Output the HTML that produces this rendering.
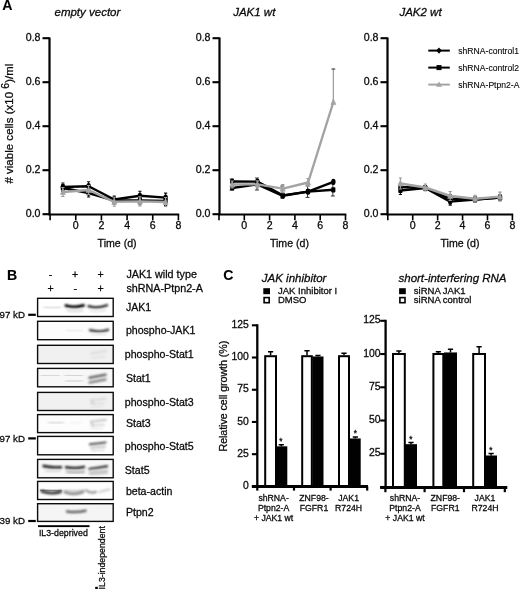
<!DOCTYPE html>
<html><head><meta charset="utf-8"><title>Figure</title>
<style>
html,body{margin:0;padding:0;background:#fff;}
body{width:520px;height:589px;overflow:hidden;font-family:"Liberation Sans",sans-serif;}
svg{display:block;will-change:transform;opacity:0.999;font-family:"Liberation Sans",sans-serif;}
text{fill:#0a0a0a;stroke:#0a0a0a;stroke-width:0.28px;}
.t{font-size:10.6px;}
.it{font-size:11.5px;font-style:italic;}
.pl{font-size:15.4px;font-weight:bold;fill:#000;stroke-width:0.1px;}
.lg{font-size:8.6px;stroke-width:0.12px;}
.bl{font-size:10.6px;}
.xs{font-size:8.7px;}
.lg2{font-size:9.5px;}
</style></head><body>
<svg width="520" height="589" viewBox="0 0 520 589">
<rect width="520" height="589" fill="#fff"/>

<text class="pl" transform="translate(2.3,10.3) scale(0.92,1)">A</text>
<text class="it" x="54.5" y="16.3">empty vector</text>
<path d="M49.5 37.5 V214.5 H179.20000000000002" fill="none" stroke="#000" stroke-width="2.2" stroke-linejoin="miter"/>
<line x1="42.5" y1="214.2" x2="49.5" y2="214.2" stroke="#000" stroke-width="2.1"/>
<text class="t" x="40.5" y="216.6" text-anchor="end">0.0</text>
<line x1="42.5" y1="170.2" x2="49.5" y2="170.2" stroke="#000" stroke-width="2.1"/>
<text class="t" x="40.5" y="172.6" text-anchor="end">0.2</text>
<line x1="42.5" y1="126.2" x2="49.5" y2="126.2" stroke="#000" stroke-width="2.1"/>
<text class="t" x="40.5" y="128.6" text-anchor="end">0.4</text>
<line x1="42.5" y1="82.19999999999997" x2="49.5" y2="82.19999999999997" stroke="#000" stroke-width="2.1"/>
<text class="t" x="40.5" y="84.59999999999997" text-anchor="end">0.6</text>
<line x1="42.5" y1="38.2" x2="49.5" y2="38.2" stroke="#000" stroke-width="2.1"/>
<text class="t" x="40.5" y="40.6" text-anchor="end">0.8</text>
<line x1="50.1" y1="214.5" x2="50.1" y2="220.3" stroke="#000" stroke-width="1.6"/>
<line x1="75.76" y1="214.5" x2="75.76" y2="220.3" stroke="#000" stroke-width="1.6"/>
<text class="t" x="75.76" y="228.9" text-anchor="middle">0</text>
<line x1="101.42" y1="214.5" x2="101.42" y2="220.3" stroke="#000" stroke-width="1.6"/>
<text class="t" x="101.42" y="228.9" text-anchor="middle">2</text>
<line x1="127.08000000000001" y1="214.5" x2="127.08000000000001" y2="220.3" stroke="#000" stroke-width="1.6"/>
<text class="t" x="127.08000000000001" y="228.9" text-anchor="middle">4</text>
<line x1="152.74" y1="214.5" x2="152.74" y2="220.3" stroke="#000" stroke-width="1.6"/>
<text class="t" x="152.74" y="228.9" text-anchor="middle">6</text>
<line x1="178.4" y1="214.5" x2="178.4" y2="220.3" stroke="#000" stroke-width="1.6"/>
<text class="t" x="178.4" y="228.9" text-anchor="middle">8</text>
<text class="t" x="117.1" y="246.8" text-anchor="middle">Time (d)</text>
<path d="M62.9 184.5 V191.5 M61.3 184.5 H64.5 M61.3 191.5 H64.5" stroke="#111" stroke-width="1.1" fill="none"/>
<path d="M88.6 189.0 V197.0 M87.0 189.0 H90.2 M87.0 197.0 H90.2" stroke="#111" stroke-width="1.1" fill="none"/>
<path d="M114.2 197.0 V204.0 M112.7 197.0 H115.8 M112.7 204.0 H115.8" stroke="#111" stroke-width="1.1" fill="none"/>
<path d="M139.9 197.0 V204.0 M138.3 197.0 H141.5 M138.3 204.0 H141.5" stroke="#111" stroke-width="1.1" fill="none"/>
<path d="M165.6 196.5 V205.5 M164.0 196.5 H167.2 M164.0 205.5 H167.2" stroke="#111" stroke-width="1.1" fill="none"/>
<path d="M62.9 183.0 V191.0 M61.3 183.0 H64.5 M61.3 191.0 H64.5" stroke="#111" stroke-width="1.1" fill="none"/>
<path d="M88.6 181.8 V190.8 M87.0 181.8 H90.2 M87.0 190.8 H90.2" stroke="#111" stroke-width="1.1" fill="none"/>
<path d="M114.2 196.0 V203.0 M112.7 196.0 H115.8 M112.7 203.0 H115.8" stroke="#111" stroke-width="1.1" fill="none"/>
<path d="M139.9 191.3 V200.3 M138.3 191.3 H141.5 M138.3 200.3 H141.5" stroke="#111" stroke-width="1.1" fill="none"/>
<path d="M165.6 193.1 V202.1 M164.0 193.1 H167.2 M164.0 202.1 H167.2" stroke="#111" stroke-width="1.1" fill="none"/>
<polyline points="62.9,188.0 88.6,193.0 114.2,200.5 139.9,200.5 165.6,201.0" fill="none" stroke="#000" stroke-width="2.4" stroke-linejoin="round"/>
<polyline points="62.9,187.0 88.6,186.2 114.2,199.5 139.9,195.8 165.6,197.6" fill="none" stroke="#000" stroke-width="2.4" stroke-linejoin="round"/>
<rect x="60.8" y="185.4" width="4.2" height="5.2" rx="0.8" fill="#000"/>
<rect x="86.5" y="190.4" width="4.2" height="5.2" rx="0.8" fill="#000"/>
<rect x="112.2" y="197.9" width="4.2" height="5.2" rx="0.8" fill="#000"/>
<rect x="137.8" y="197.9" width="4.2" height="5.2" rx="0.8" fill="#000"/>
<rect x="163.5" y="198.4" width="4.2" height="5.2" rx="0.8" fill="#000"/>
<ellipse cx="62.9" cy="187.0" rx="2.2" ry="3.1" fill="#000"/>
<ellipse cx="88.6" cy="186.2" rx="2.2" ry="3.1" fill="#000"/>
<ellipse cx="114.2" cy="199.5" rx="2.2" ry="3.1" fill="#000"/>
<ellipse cx="139.9" cy="195.8" rx="2.2" ry="3.1" fill="#000"/>
<ellipse cx="165.6" cy="197.6" rx="2.2" ry="3.1" fill="#000"/>
<path d="M62.9 187.5 V196.5 M61.3 187.5 H64.5 M61.3 196.5 H64.5" stroke="#9a9a9a" stroke-width="1.1" fill="none"/>
<path d="M88.6 185.5 V194.5 M87.0 185.5 H90.2 M87.0 194.5 H90.2" stroke="#9a9a9a" stroke-width="1.1" fill="none"/>
<path d="M114.2 197.3 V206.3 M112.7 197.3 H115.8 M112.7 206.3 H115.8" stroke="#9a9a9a" stroke-width="1.1" fill="none"/>
<path d="M139.9 196.9 V205.9 M138.3 196.9 H141.5 M138.3 205.9 H141.5" stroke="#9a9a9a" stroke-width="1.1" fill="none"/>
<path d="M165.6 197.5 V206.5 M164.0 197.5 H167.2 M164.0 206.5 H167.2" stroke="#9a9a9a" stroke-width="1.1" fill="none"/>
<polyline points="62.9,192.0 88.6,190.0 114.2,201.8 139.9,201.4 165.6,202.0" fill="none" stroke="#a3a3a3" stroke-width="2.4" stroke-linejoin="round"/>
<path d="M62.9 188.6 L65.4 194.6 L60.4 194.6Z" fill="#a3a3a3" stroke="#a3a3a3" stroke-width="0.6" stroke-linejoin="round"/>
<path d="M88.6 186.6 L91.1 192.6 L86.1 192.6Z" fill="#a3a3a3" stroke="#a3a3a3" stroke-width="0.6" stroke-linejoin="round"/>
<path d="M114.2 198.4 L116.8 204.4 L111.8 204.4Z" fill="#a3a3a3" stroke="#a3a3a3" stroke-width="0.6" stroke-linejoin="round"/>
<path d="M139.9 198.0 L142.4 204.0 L137.4 204.0Z" fill="#a3a3a3" stroke="#a3a3a3" stroke-width="0.6" stroke-linejoin="round"/>
<path d="M165.6 198.6 L168.1 204.6 L163.1 204.6Z" fill="#a3a3a3" stroke="#a3a3a3" stroke-width="0.6" stroke-linejoin="round"/>
<text class="it" x="233.2" y="16.3">JAK1 wt</text>
<path d="M219.5 37.5 V214.5 H346.3" fill="none" stroke="#000" stroke-width="2.2" stroke-linejoin="miter"/>
<line x1="212.5" y1="214.2" x2="219.5" y2="214.2" stroke="#000" stroke-width="2.1"/>
<text class="t" x="210.5" y="216.6" text-anchor="end">0.0</text>
<line x1="212.5" y1="170.2" x2="219.5" y2="170.2" stroke="#000" stroke-width="2.1"/>
<text class="t" x="210.5" y="172.6" text-anchor="end">0.2</text>
<line x1="212.5" y1="126.2" x2="219.5" y2="126.2" stroke="#000" stroke-width="2.1"/>
<text class="t" x="210.5" y="128.6" text-anchor="end">0.4</text>
<line x1="212.5" y1="82.19999999999997" x2="219.5" y2="82.19999999999997" stroke="#000" stroke-width="2.1"/>
<text class="t" x="210.5" y="84.59999999999997" text-anchor="end">0.6</text>
<line x1="212.5" y1="38.2" x2="219.5" y2="38.2" stroke="#000" stroke-width="2.1"/>
<text class="t" x="210.5" y="40.6" text-anchor="end">0.8</text>
<line x1="219.0" y1="214.5" x2="219.0" y2="220.3" stroke="#000" stroke-width="1.6"/>
<line x1="244.3" y1="214.5" x2="244.3" y2="220.3" stroke="#000" stroke-width="1.6"/>
<text class="t" x="244.3" y="228.9" text-anchor="middle">0</text>
<line x1="269.6" y1="214.5" x2="269.6" y2="220.3" stroke="#000" stroke-width="1.6"/>
<text class="t" x="269.6" y="228.9" text-anchor="middle">2</text>
<line x1="294.9" y1="214.5" x2="294.9" y2="220.3" stroke="#000" stroke-width="1.6"/>
<text class="t" x="294.9" y="228.9" text-anchor="middle">4</text>
<line x1="320.2" y1="214.5" x2="320.2" y2="220.3" stroke="#000" stroke-width="1.6"/>
<text class="t" x="320.2" y="228.9" text-anchor="middle">6</text>
<line x1="345.5" y1="214.5" x2="345.5" y2="220.3" stroke="#000" stroke-width="1.6"/>
<text class="t" x="345.5" y="228.9" text-anchor="middle">8</text>
<text class="t" x="289.4" y="246.8" text-anchor="middle">Time (d)</text>
<path d="M256.95 178 V190 M254.95 178 H258.95 M254.95 190 H258.95" stroke="#222" stroke-width="0.9" fill="none"/>
<path d="M307.55 186 V197.4 M305.55 186 H309.55 M305.55 197.4 H309.55" stroke="#222" stroke-width="0.9" fill="none"/>
<path d="M332.85 184 V196 M330.85 184 H334.85 M330.85 196 H334.85" stroke="#222" stroke-width="0.9" fill="none"/>
<path d="M282.25 186 V198 M280.25 186 H284.25 M280.25 198 H284.25" stroke="#222" stroke-width="0.9" fill="none"/>
<path d="M231.65 179 V190 M229.65 179 H233.65 M229.65 190 H233.65" stroke="#222" stroke-width="0.9" fill="none"/>
<path d="M333.35 69 V102" stroke="#999" stroke-width="1.2" fill="none"/>
<path d="M331.55 69 H335.15000000000003" stroke="#333" stroke-width="1.1" fill="none"/>
<polyline points="232.2,188.0 257.4,184.4 282.8,195.8 308.1,191.6 333.4,189.8" fill="none" stroke="#000" stroke-width="2.4" stroke-linejoin="round"/>
<polyline points="232.2,181.5 257.4,181.6 282.8,195.4 308.1,191.6 333.4,181.8" fill="none" stroke="#000" stroke-width="2.4" stroke-linejoin="round"/>
<rect x="230.1" y="185.4" width="4.2" height="5.2" rx="0.8" fill="#000"/>
<rect x="255.3" y="181.8" width="4.2" height="5.2" rx="0.8" fill="#000"/>
<rect x="280.6" y="193.2" width="4.2" height="5.2" rx="0.8" fill="#000"/>
<rect x="305.9" y="189.0" width="4.2" height="5.2" rx="0.8" fill="#000"/>
<rect x="331.2" y="187.2" width="4.2" height="5.2" rx="0.8" fill="#000"/>
<ellipse cx="232.2" cy="181.5" rx="2.2" ry="3.1" fill="#000"/>
<ellipse cx="257.4" cy="181.6" rx="2.2" ry="3.1" fill="#000"/>
<ellipse cx="282.8" cy="195.4" rx="2.2" ry="3.1" fill="#000"/>
<ellipse cx="308.1" cy="191.6" rx="2.2" ry="3.1" fill="#000"/>
<ellipse cx="333.4" cy="181.8" rx="2.2" ry="3.1" fill="#000"/>
<path d="M232.2 181.0 V188.0 M230.6 181.0 H233.8 M230.6 188.0 H233.8" stroke="#9a9a9a" stroke-width="1.1" fill="none"/>
<path d="M257.4 180.9 V187.9 M255.8 180.9 H259.1 M255.8 187.9 H259.1" stroke="#9a9a9a" stroke-width="1.1" fill="none"/>
<path d="M282.8 184.6 V192.6 M281.1 184.6 H284.4 M281.1 192.6 H284.4" stroke="#9a9a9a" stroke-width="1.1" fill="none"/>
<path d="M308.1 178.5 V186.5 M306.4 178.5 H309.7 M306.4 186.5 H309.7" stroke="#9a9a9a" stroke-width="1.1" fill="none"/>
<polyline points="232.2,184.5 257.4,184.4 282.8,188.6 308.1,182.5 333.4,102.0" fill="none" stroke="#a3a3a3" stroke-width="2.4" stroke-linejoin="round"/>
<path d="M232.2 181.1 L234.7 187.1 L229.7 187.1Z" fill="#a3a3a3" stroke="#a3a3a3" stroke-width="0.6" stroke-linejoin="round"/>
<path d="M257.4 181.0 L259.9 187.0 L254.9 187.0Z" fill="#a3a3a3" stroke="#a3a3a3" stroke-width="0.6" stroke-linejoin="round"/>
<path d="M282.8 185.2 L285.2 191.2 L280.2 191.2Z" fill="#a3a3a3" stroke="#a3a3a3" stroke-width="0.6" stroke-linejoin="round"/>
<path d="M308.1 179.1 L310.6 185.1 L305.6 185.1Z" fill="#a3a3a3" stroke="#a3a3a3" stroke-width="0.6" stroke-linejoin="round"/>
<path d="M333.4 98.6 L335.9 104.6 L330.9 104.6Z" fill="#a3a3a3" stroke="#a3a3a3" stroke-width="0.6" stroke-linejoin="round"/>
<text class="it" x="399.4" y="16.3">JAK2 wt</text>
<path d="M387.5 37.5 V214.5 H513.1999999999999" fill="none" stroke="#000" stroke-width="2.2" stroke-linejoin="miter"/>
<line x1="380.5" y1="214.2" x2="387.5" y2="214.2" stroke="#000" stroke-width="2.1"/>
<text class="t" x="378.5" y="216.6" text-anchor="end">0.0</text>
<line x1="380.5" y1="170.2" x2="387.5" y2="170.2" stroke="#000" stroke-width="2.1"/>
<text class="t" x="378.5" y="172.6" text-anchor="end">0.2</text>
<line x1="380.5" y1="126.2" x2="387.5" y2="126.2" stroke="#000" stroke-width="2.1"/>
<text class="t" x="378.5" y="128.6" text-anchor="end">0.4</text>
<line x1="380.5" y1="82.19999999999997" x2="387.5" y2="82.19999999999997" stroke="#000" stroke-width="2.1"/>
<text class="t" x="378.5" y="84.59999999999997" text-anchor="end">0.6</text>
<line x1="380.5" y1="38.2" x2="387.5" y2="38.2" stroke="#000" stroke-width="2.1"/>
<text class="t" x="378.5" y="40.6" text-anchor="end">0.8</text>
<line x1="387.8" y1="214.5" x2="387.8" y2="220.3" stroke="#000" stroke-width="1.6"/>
<line x1="412.72" y1="214.5" x2="412.72" y2="220.3" stroke="#000" stroke-width="1.6"/>
<text class="t" x="412.72" y="228.9" text-anchor="middle">0</text>
<line x1="437.64" y1="214.5" x2="437.64" y2="220.3" stroke="#000" stroke-width="1.6"/>
<text class="t" x="437.64" y="228.9" text-anchor="middle">2</text>
<line x1="462.56" y1="214.5" x2="462.56" y2="220.3" stroke="#000" stroke-width="1.6"/>
<text class="t" x="462.56" y="228.9" text-anchor="middle">4</text>
<line x1="487.48" y1="214.5" x2="487.48" y2="220.3" stroke="#000" stroke-width="1.6"/>
<text class="t" x="487.48" y="228.9" text-anchor="middle">6</text>
<line x1="512.4" y1="214.5" x2="512.4" y2="220.3" stroke="#000" stroke-width="1.6"/>
<text class="t" x="512.4" y="228.9" text-anchor="middle">8</text>
<text class="t" x="460" y="246.8" text-anchor="middle">Time (d)</text>
<path d="M400.4 186.5 V194.5 M398.8 186.5 H402.0 M398.8 194.5 H402.0" stroke="#111" stroke-width="1.1" fill="none"/>
<path d="M425.3 185.5 V190.5 M423.7 185.5 H426.9 M423.7 190.5 H426.9" stroke="#111" stroke-width="1.1" fill="none"/>
<path d="M450.2 194.8 V202.8 M448.6 194.8 H451.8 M448.6 202.8 H451.8" stroke="#111" stroke-width="1.1" fill="none"/>
<path d="M475.1 197.0 V202.0 M473.5 197.0 H476.7 M473.5 202.0 H476.7" stroke="#111" stroke-width="1.1" fill="none"/>
<path d="M500.0 195.0 V200.0 M498.4 195.0 H501.6 M498.4 200.0 H501.6" stroke="#111" stroke-width="1.1" fill="none"/>
<path d="M400.4 183.5 V190.5 M398.8 183.5 H402.0 M398.8 190.5 H402.0" stroke="#111" stroke-width="1.1" fill="none"/>
<path d="M425.3 185.5 V190.5 M423.7 185.5 H426.9 M423.7 190.5 H426.9" stroke="#111" stroke-width="1.1" fill="none"/>
<path d="M450.2 198.1 V205.1 M448.6 198.1 H451.8 M448.6 205.1 H451.8" stroke="#111" stroke-width="1.1" fill="none"/>
<path d="M475.1 197.0 V202.0 M473.5 197.0 H476.7 M473.5 202.0 H476.7" stroke="#111" stroke-width="1.1" fill="none"/>
<path d="M500.0 195.0 V200.0 M498.4 195.0 H501.6 M498.4 200.0 H501.6" stroke="#111" stroke-width="1.1" fill="none"/>
<polyline points="400.4,190.5 425.3,188.0 450.2,198.8 475.1,199.5 500.0,197.5" fill="none" stroke="#000" stroke-width="2.4" stroke-linejoin="round"/>
<polyline points="400.4,187.0 425.3,188.0 450.2,201.6 475.1,199.5 500.0,197.5" fill="none" stroke="#000" stroke-width="2.4" stroke-linejoin="round"/>
<rect x="398.3" y="187.9" width="4.2" height="5.2" rx="0.8" fill="#000"/>
<rect x="423.2" y="185.4" width="4.2" height="5.2" rx="0.8" fill="#000"/>
<rect x="448.1" y="196.2" width="4.2" height="5.2" rx="0.8" fill="#000"/>
<rect x="473.0" y="196.9" width="4.2" height="5.2" rx="0.8" fill="#000"/>
<rect x="497.9" y="194.9" width="4.2" height="5.2" rx="0.8" fill="#000"/>
<ellipse cx="400.4" cy="187.0" rx="2.2" ry="3.1" fill="#000"/>
<ellipse cx="425.3" cy="188.0" rx="2.2" ry="3.1" fill="#000"/>
<ellipse cx="450.2" cy="201.6" rx="2.2" ry="3.1" fill="#000"/>
<ellipse cx="475.1" cy="199.5" rx="2.2" ry="3.1" fill="#000"/>
<ellipse cx="500.0" cy="197.5" rx="2.2" ry="3.1" fill="#000"/>
<path d="M400.4 178.0 V189.0 M398.8 178.0 H402.0 M398.8 189.0 H402.0" stroke="#9a9a9a" stroke-width="1.1" fill="none"/>
<path d="M425.3 184.0 V191.0 M423.7 184.0 H426.9 M423.7 191.0 H426.9" stroke="#9a9a9a" stroke-width="1.1" fill="none"/>
<path d="M450.2 191.5 V200.5 M448.6 191.5 H451.8 M448.6 200.5 H451.8" stroke="#9a9a9a" stroke-width="1.1" fill="none"/>
<path d="M475.1 195.2 V202.2 M473.5 195.2 H476.7 M473.5 202.2 H476.7" stroke="#9a9a9a" stroke-width="1.1" fill="none"/>
<path d="M500.0 192.1 V201.1 M498.4 192.1 H501.6 M498.4 201.1 H501.6" stroke="#9a9a9a" stroke-width="1.1" fill="none"/>
<polyline points="400.4,183.5 425.3,187.5 450.2,196.0 475.1,198.8 500.0,196.6" fill="none" stroke="#a3a3a3" stroke-width="2.4" stroke-linejoin="round"/>
<path d="M400.4 180.1 L402.9 186.1 L397.9 186.1Z" fill="#a3a3a3" stroke="#a3a3a3" stroke-width="0.6" stroke-linejoin="round"/>
<path d="M425.3 184.1 L427.8 190.1 L422.8 190.1Z" fill="#a3a3a3" stroke="#a3a3a3" stroke-width="0.6" stroke-linejoin="round"/>
<path d="M450.2 192.6 L452.7 198.6 L447.7 198.6Z" fill="#a3a3a3" stroke="#a3a3a3" stroke-width="0.6" stroke-linejoin="round"/>
<path d="M475.1 195.3 L477.6 201.3 L472.6 201.3Z" fill="#a3a3a3" stroke="#a3a3a3" stroke-width="0.6" stroke-linejoin="round"/>
<path d="M500.0 193.2 L502.5 199.2 L497.5 199.2Z" fill="#a3a3a3" stroke="#a3a3a3" stroke-width="0.6" stroke-linejoin="round"/>
<text class="t" transform="translate(13.2,183.6) rotate(-90)" style="font-size:11.4px" textLength="120" lengthAdjust="spacing">#&#160;viable cells (x10 <tspan dy="-4.5" style="font-size:10.5px">6</tspan><tspan dy="4.5">)/ml</tspan></text>
<line x1="428.3" y1="50.6" x2="449.8" y2="50.6" stroke="#000" stroke-width="2"/>
<path d="M439 47.5 L441.8 50.6 L439 53.7 L436.2 50.6Z" fill="#000"/>
<text class="lg" x="458.3" y="53.7">shRNA-control1</text>
<line x1="428.3" y1="67.6" x2="449.8" y2="67.6" stroke="#000" stroke-width="2"/>
<rect x="436.5" y="65.1" width="5" height="5" fill="#000"/>
<text class="lg" x="458.3" y="70.69999999999999">shRNA-control2</text>
<line x1="428.3" y1="84.6" x2="449.8" y2="84.6" stroke="#a3a3a3" stroke-width="2"/>
<path d="M439 81.39999999999999 L442 86.8 L436 86.8Z" fill="#a3a3a3"/>
<text class="lg" x="458.3" y="87.69999999999999">shRNA-Ptpn2-A</text>
<text class="pl" transform="translate(6.9,279.6) scale(0.92,1)">B</text>
<text class="bl" x="50.6" y="278.0" text-anchor="middle">-</text>
<text class="bl" x="75.2" y="278.0" text-anchor="middle">+</text>
<text class="bl" x="100.7" y="278.0" text-anchor="middle">+</text>
<text class="bl" x="50.6" y="291.7" text-anchor="middle">+</text>
<text class="bl" x="75.2" y="291.7" text-anchor="middle">-</text>
<text class="bl" x="100.7" y="291.7" text-anchor="middle">+</text>
<text class="bl" x="126.4" y="278.3" style="font-size:10.75px">JAK1 wild type</text>
<text class="bl" x="126.4" y="291.9" style="font-size:10.75px">shRNA-Ptpn2-A</text>
<defs><filter id="g7" x="-30%" y="-300%" width="160%" height="700%"><feGaussianBlur stdDeviation="0.7"/></filter><filter id="g8" x="-30%" y="-300%" width="160%" height="700%"><feGaussianBlur stdDeviation="0.8"/></filter><filter id="g9" x="-30%" y="-300%" width="160%" height="700%"><feGaussianBlur stdDeviation="0.9"/></filter><filter id="g10" x="-30%" y="-300%" width="160%" height="700%"><feGaussianBlur stdDeviation="1.0"/></filter><filter id="g12" x="-30%" y="-300%" width="160%" height="700%"><feGaussianBlur stdDeviation="1.2"/></filter><filter id="g13" x="-30%" y="-300%" width="160%" height="700%"><feGaussianBlur stdDeviation="1.3"/></filter></defs>
<clipPath id="cp0"><rect x="37.6" y="298.3" width="75.6" height="18.19999999999999"/></clipPath>
<rect x="37.6" y="298.3" width="75.6" height="18.19999999999999" fill="#fff"/>
<g clip-path="url(#cp0)">
<path d="M44 307.3 Q52.25 307.70 60.5 307.3" fill="none" stroke="#d2d2d2" stroke-width="1.5" stroke-linecap="round" filter="url(#g8)"/>
<path d="M66 305.6 Q74.75 308.30 83.5 305.4" fill="none" stroke="#000" stroke-width="2.9" stroke-linecap="round" filter="url(#g8)"/>
<path d="M68 310 Q75.0 312.00 82 310" fill="none" stroke="#e4e4e4" stroke-width="3.5" stroke-linecap="round" filter="url(#g12)"/>
<path d="M88.5 306.2 Q97.75 309.10 107 305.2" fill="none" stroke="#161616" stroke-width="2.3" stroke-linecap="round" filter="url(#g8)"/>
<path d="M91 310.5 Q98.0 311.75 105 310" fill="none" stroke="#eaeaea" stroke-width="3" stroke-linecap="round" filter="url(#g12)"/>
</g>
<rect x="37.6" y="298.3" width="75.6" height="18.19999999999999" fill="none" stroke="#0c0c0c" stroke-width="1.4"/>
<text class="bl" x="125.9" y="311.09999999999997">JAK1</text>
<clipPath id="cp1"><rect x="37.6" y="321.3" width="75.6" height="18.399999999999977"/></clipPath>
<rect x="37.6" y="321.3" width="75.6" height="18.399999999999977" fill="#fcfcfc"/>
<g clip-path="url(#cp1)">
<path d="M67 330.4 Q74.5 330.80 82 330.4" fill="none" stroke="#e9e9e9" stroke-width="1.6" stroke-linecap="round" filter="url(#g9)"/>
<path d="M43 331 Q51.5 331.00 60 331" fill="none" stroke="#f4f4f4" stroke-width="2" stroke-linecap="round" filter="url(#g10)"/>
<path d="M90 330.2 Q99.0 332.80 108 329.8" fill="none" stroke="#333" stroke-width="2.4" stroke-linecap="round" filter="url(#g9)"/>
<path d="M92 334 Q99.0 335.00 106 334" fill="none" stroke="#ececec" stroke-width="2.5" stroke-linecap="round" filter="url(#g12)"/>
</g>
<rect x="37.6" y="321.3" width="75.6" height="18.399999999999977" fill="none" stroke="#0c0c0c" stroke-width="1.4"/>
<text class="bl" x="125.9" y="334.2">phospho-JAK1</text>
<clipPath id="cp2"><rect x="37.6" y="345.3" width="75.6" height="18.19999999999999"/></clipPath>
<rect x="37.6" y="345.3" width="75.6" height="18.19999999999999" fill="#f0f0f0"/>
<g clip-path="url(#cp2)">
<path d="M91 353.5 Q98.5 352.35 106 351" fill="none" stroke="#dbdbdb" stroke-width="1.8" stroke-linecap="round" filter="url(#g9)"/>
<path d="M92 357.8 Q98.5 357.30 105 356.4" fill="none" stroke="#e0e0e0" stroke-width="1.8" stroke-linecap="round" filter="url(#g9)"/>
<path d="M108 354 Q110.25 354.00 112.5 354" fill="none" stroke="#fafafa" stroke-width="16" stroke-linecap="round" filter="url(#g12)"/>
</g>
<rect x="37.6" y="345.3" width="75.6" height="18.19999999999999" fill="none" stroke="#0c0c0c" stroke-width="1.4"/>
<text class="bl" x="124.8" y="358.09999999999997">phospho-Stat1</text>
<clipPath id="cp3"><rect x="37.6" y="368.4" width="75.6" height="18.400000000000034"/></clipPath>
<rect x="37.6" y="368.4" width="75.6" height="18.400000000000034" fill="#f7f7f7"/>
<g clip-path="url(#cp3)">
<path d="M41.5 375.3 Q50.25 375.50 59 375.3" fill="none" stroke="#bdbdbd" stroke-width="1.9" stroke-linecap="round" filter="url(#g9)"/>
<path d="M42 380.7 Q50.5 380.70 59 380.7" fill="none" stroke="#e2e2e2" stroke-width="1.6" stroke-linecap="round" filter="url(#g9)"/>
<path d="M65 375.4 Q73.75 375.60 82.5 375.4" fill="none" stroke="#bcbcbc" stroke-width="2.0" stroke-linecap="round" filter="url(#g9)"/>
<path d="M66 380.8 Q74.0 381.00 82 380.8" fill="none" stroke="#d2d2d2" stroke-width="2.0" stroke-linecap="round" filter="url(#g9)"/>
<path d="M89.5 377.8 Q97.5 376.30 105.5 374.8" fill="none" stroke="#666" stroke-width="2.5" stroke-linecap="round" filter="url(#g9)"/>
<path d="M89.5 382.4 Q97.5 381.20 105.5 379.6" fill="none" stroke="#858585" stroke-width="2.5" stroke-linecap="round" filter="url(#g9)"/>
</g>
<rect x="37.6" y="368.4" width="75.6" height="18.400000000000034" fill="none" stroke="#0c0c0c" stroke-width="1.4"/>
<text class="bl" x="125.9" y="381.90000000000003">Stat1</text>
<clipPath id="cp4"><rect x="37.6" y="392.4" width="75.6" height="18.100000000000023"/></clipPath>
<rect x="37.6" y="392.4" width="75.6" height="18.100000000000023" fill="#f1f1f1"/>
<g clip-path="url(#cp4)">
<path d="M91 400.4 Q98.25 399.60 105.5 398.8" fill="none" stroke="#d4d4d4" stroke-width="1.8" stroke-linecap="round" filter="url(#g9)"/>
<path d="M91 403.8 Q97.5 403.60 104 403.4" fill="none" stroke="#dadada" stroke-width="1.7" stroke-linecap="round" filter="url(#g9)"/>
<path d="M91 406.6 Q97.0 406.40 103 406.2" fill="none" stroke="#e0e0e0" stroke-width="1.5" stroke-linecap="round" filter="url(#g9)"/>
<path d="M91 401 Q92.25 402.00 93.5 403" fill="none" stroke="#d6d6d6" stroke-width="2.4" stroke-linecap="round" filter="url(#g9)"/>
<path d="M108.5 401 Q110.5 401.00 112.5 401" fill="none" stroke="#fafafa" stroke-width="16" stroke-linecap="round" filter="url(#g12)"/>
</g>
<rect x="37.6" y="392.4" width="75.6" height="18.100000000000023" fill="none" stroke="#0c0c0c" stroke-width="1.4"/>
<text class="bl" x="124.8" y="405.75">phospho-Stat3</text>
<clipPath id="cp5"><rect x="37.6" y="414.6" width="75.6" height="18.0"/></clipPath>
<rect x="37.6" y="414.6" width="75.6" height="18.0" fill="#fdfdfd"/>
<g clip-path="url(#cp5)">
<path d="M48.5 422.6 Q56.0 423.20 63.5 422.6" fill="none" stroke="#d8d8d8" stroke-width="1.8" stroke-linecap="round" filter="url(#g9)"/>
<path d="M70 422.6 Q76.0 423.10 82 422.4" fill="none" stroke="#ebebeb" stroke-width="1.1" stroke-linecap="round" filter="url(#g8)"/>
<path d="M71 425.8 Q76.5 425.80 82 425.8" fill="none" stroke="#efefef" stroke-width="1.0" stroke-linecap="round" filter="url(#g8)"/>
<path d="M91 421.6 Q98.5 420.90 106 419.8" fill="none" stroke="#c4c4c4" stroke-width="1.9" stroke-linecap="round" filter="url(#g9)"/>
<path d="M91 425.6 Q97.5 425.30 104 424.6" fill="none" stroke="#d2d2d2" stroke-width="1.8" stroke-linecap="round" filter="url(#g9)"/>
<path d="M92 428.4 Q97.0 428.50 102 428.2" fill="none" stroke="#e4e4e4" stroke-width="1.5" stroke-linecap="round" filter="url(#g9)"/>
<path d="M91 422 Q92.25 423.50 93.5 425" fill="none" stroke="#cfcfcf" stroke-width="2.4" stroke-linecap="round" filter="url(#g9)"/>
</g>
<rect x="37.6" y="414.6" width="75.6" height="18.0" fill="none" stroke="#0c0c0c" stroke-width="1.4"/>
<text class="bl" x="125.9" y="427.3">Stat3</text>
<clipPath id="cp6"><rect x="37.6" y="436.4" width="75.6" height="18.400000000000034"/></clipPath>
<rect x="37.6" y="436.4" width="75.6" height="18.400000000000034" fill="#fff"/>
<g clip-path="url(#cp6)">
<path d="M90 444.3 Q97.75 443.60 105.5 442.5" fill="none" stroke="#4c4c4c" stroke-width="2.1" stroke-linecap="round" filter="url(#g8)"/>
<path d="M91 447.8 Q98.0 447.35 105 446.7" fill="none" stroke="#b8b8b8" stroke-width="1.8" stroke-linecap="round" filter="url(#g9)"/>
<path d="M91.5 450.6 Q97.75 450.30 104 450" fill="none" stroke="#d6d6d6" stroke-width="1.6" stroke-linecap="round" filter="url(#g9)"/>
</g>
<rect x="37.6" y="436.4" width="75.6" height="18.400000000000034" fill="none" stroke="#0c0c0c" stroke-width="1.4"/>
<text class="bl" x="124.8" y="449.90000000000003">phospho-Stat5</text>
<clipPath id="cp7"><rect x="37.6" y="459.4" width="75.6" height="18.400000000000034"/></clipPath>
<rect x="37.6" y="459.4" width="75.6" height="18.400000000000034" fill="#f8f8f8"/>
<g clip-path="url(#cp7)">
<path d="M43.5 466 Q52.25 467.80 61 467.2" fill="none" stroke="#101010" stroke-width="2.4" stroke-linecap="round" filter="url(#g8)"/>
<path d="M46 470.5 Q53.0 471.50 60 470.5" fill="none" stroke="#dcdcdc" stroke-width="2.5" stroke-linecap="round" filter="url(#g12)"/>
<path d="M66 467.2 Q75.0 468.70 84 467" fill="none" stroke="#222" stroke-width="2.5" stroke-linecap="round" filter="url(#g8)"/>
<path d="M68 471.6 Q75.5 472.80 83 471.6" fill="none" stroke="#c4c4c4" stroke-width="4.5" stroke-linecap="round" filter="url(#g13)"/>
<path d="M89.5 468.9 Q98.25 467.80 107 466.3" fill="none" stroke="#404040" stroke-width="2.4" stroke-linecap="round" filter="url(#g8)"/>
<path d="M91 472.8 Q98.5 472.60 106 471.6" fill="none" stroke="#c8c8c8" stroke-width="4.8" stroke-linecap="round" filter="url(#g13)"/>
</g>
<rect x="37.6" y="459.4" width="75.6" height="18.400000000000034" fill="none" stroke="#0c0c0c" stroke-width="1.4"/>
<text class="bl" x="124.8" y="474.1">Stat5</text>
<clipPath id="cp8"><rect x="37.6" y="481.4" width="75.6" height="18.100000000000023"/></clipPath>
<rect x="37.6" y="481.4" width="75.6" height="18.100000000000023" fill="#fdfdfd"/>
<g clip-path="url(#cp8)">
<path d="M40.5 490.3 Q51.0 490.55 61.5 490.6" fill="none" stroke="#8e8e8e" stroke-width="1.6" stroke-linecap="round" filter="url(#g7)"/>
<path d="M42 491.4 Q51.25 494.55 60.5 491.9" fill="none" stroke="#333" stroke-width="2.9" stroke-linecap="round" filter="url(#g8)"/>
<path d="M63.5 491 Q74.0 491.45 84.5 490.5" fill="none" stroke="#b4b4b4" stroke-width="1.5" stroke-linecap="round" filter="url(#g8)"/>
<path d="M65 492.3 Q74.0 495.65 83 492" fill="none" stroke="#8a8a8a" stroke-width="2.7" stroke-linecap="round" filter="url(#g9)"/>
<path d="M86 490.4 Q91.0 493.90 96 491.8" fill="none" stroke="#949494" stroke-width="2.1" stroke-linecap="round" filter="url(#g8)"/>
<path d="M99 492 Q104.25 490.50 109.5 489.4" fill="none" stroke="#c4c4c4" stroke-width="1.8" stroke-linecap="round" filter="url(#g8)"/>
</g>
<rect x="37.6" y="481.4" width="75.6" height="18.100000000000023" fill="none" stroke="#0c0c0c" stroke-width="1.4"/>
<text class="bl" x="125.9" y="494.84999999999997">beta-actin</text>
<clipPath id="cp9"><rect x="37.6" y="503.7" width="75.6" height="17.69999999999999"/></clipPath>
<rect x="37.6" y="503.7" width="75.6" height="17.69999999999999" fill="#f5f5f5"/>
<g clip-path="url(#cp9)">
<path d="M41 507.4 Q75.5 507.40 110 507.4" fill="none" stroke="#e6e6e6" stroke-width="0.9" stroke-linecap="round" filter="url(#g7)"/>
<path d="M41 510.2 Q75.5 510.20 110 510.2" fill="none" stroke="#ececec" stroke-width="0.8" stroke-linecap="round" filter="url(#g7)"/>
<path d="M67 511.4 Q76.25 512.90 85.5 510.8" fill="none" stroke="#626262" stroke-width="2.5" stroke-linecap="round" filter="url(#g8)"/>
<path d="M69 508.2 Q76.5 508.20 84 508.2" fill="none" stroke="#dcdcdc" stroke-width="1.2" stroke-linecap="round" filter="url(#g8)"/>
</g>
<rect x="37.6" y="503.7" width="75.6" height="17.69999999999999" fill="none" stroke="#0c0c0c" stroke-width="1.4"/>
<text class="bl" x="125.9" y="516.25">Ptpn2</text>
<text x="24.9" y="318.09999999999997" text-anchor="end" style="font-size:9.7px">97 kD</text>
<rect x="28.2" y="313.7" width="7.6" height="2.2" fill="#000"/>
<text x="24.9" y="441.7" text-anchor="end" style="font-size:9.7px">97 kD</text>
<rect x="28.2" y="437.3" width="7.6" height="2.2" fill="#000"/>
<text x="24.9" y="524.3" text-anchor="end" style="font-size:9.7px">39 kD</text>
<rect x="28.2" y="519.9" width="7.6" height="2.2" fill="#000"/>
<rect x="38" y="525.2" width="51.5" height="1.9" fill="#000"/>
<text x="38.9" y="536.1" style="font-size:8.8px">IL3-deprived</text>
<text transform="translate(105.1,589.4) rotate(-90)" style="font-size:8.75px">IL3-independent</text>
<rect x="95.2" y="586.8" width="2.6" height="3" fill="#000"/>
<text class="pl" transform="translate(223.3,279.8) scale(0.92,1)">C</text>
<text class="it" x="261.8" y="282.4">JAK inhibitor</text>
<text class="it" x="398.5" y="282.4">short-interfering RNA</text>
<rect x="263.3" y="288.2" width="6.7" height="6" fill="#000"/>
<rect x="264.1" y="297.6" width="5.1" height="5.1" fill="#fff" stroke="#000" stroke-width="1.6"/>
<text class="lg2" x="278" y="294.2">JAK Inhibitor I</text>
<text class="lg2" x="278" y="303.2">DMSO</text>
<rect x="399.09999999999997" y="288.2" width="6.7" height="6" fill="#000"/>
<rect x="399.9" y="297.6" width="5.1" height="5.1" fill="#fff" stroke="#000" stroke-width="1.6"/>
<text class="lg2" x="413.8" y="294.2">siRNA JAK1</text>
<text class="lg2" x="413.8" y="303.2">siRNA control</text>
<text class="t" transform="translate(227.2,451.5) rotate(-90)" style="font-size:10.7px" textLength="110.8" lengthAdjust="spacing">Relative cell growth (%)</text>
<path d="M270.6 355.20016 V351.84927999999996 M268.0 351.84927999999996 H273.20000000000005" stroke="#000" stroke-width="1.5" fill="none"/>
<rect x="265.2" y="356.20016" width="10.800000000000011" height="130.19984" fill="#fff" stroke="#000" stroke-width="2"/>
<path d="M281.25 446.31831999999997 V444.77176 M278.65 444.77176 H283.85" stroke="#000" stroke-width="1.5" fill="none"/>
<rect x="275.2" y="446.31831999999997" width="12.100000000000023" height="40.081680000000006" fill="#000"/>
<path d="M307.0 355.20016 V350.81824 M304.4 350.81824 H309.6" stroke="#000" stroke-width="1.5" fill="none"/>
<rect x="302.2" y="356.20016" width="9.600000000000023" height="130.19984" fill="#fff" stroke="#000" stroke-width="2"/>
<path d="M317.95 356.48896 V355.45792 M315.34999999999997 355.45792 H320.55" stroke="#000" stroke-width="1.5" fill="none"/>
<rect x="312.4" y="356.48896" width="11.100000000000023" height="129.91103999999996" fill="#000"/>
<path d="M344.0 355.20016 V353.13808 M341.4 353.13808 H346.6" stroke="#000" stroke-width="1.5" fill="none"/>
<rect x="339" y="356.20016" width="10" height="130.19984" fill="#fff" stroke="#000" stroke-width="2"/>
<path d="M355.35 438.45664 V436.91008 M352.75 436.91008 H357.95000000000005" stroke="#000" stroke-width="1.5" fill="none"/>
<rect x="350" y="438.45664" width="10.699999999999989" height="47.943359999999984" fill="#000"/>
<path d="M257.3 324.3 V486.4" fill="none" stroke="#000" stroke-width="2.3"/>
<path d="M251.9 486.5 H368" fill="none" stroke="#000" stroke-width="3"/>
<line x1="251.9" y1="486.4" x2="257.3" y2="486.4" stroke="#000" stroke-width="2.1"/>
<text class="t" x="248.9" y="489.0" text-anchor="end" style="font-size:10.4px">0</text>
<line x1="251.9" y1="454.18" x2="257.3" y2="454.18" stroke="#000" stroke-width="2.1"/>
<text class="t" x="248.9" y="456.78000000000003" text-anchor="end" style="font-size:10.4px">25</text>
<line x1="251.9" y1="421.96" x2="257.3" y2="421.96" stroke="#000" stroke-width="2.1"/>
<text class="t" x="248.9" y="424.56" text-anchor="end" style="font-size:10.4px">50</text>
<line x1="251.9" y1="389.74" x2="257.3" y2="389.74" stroke="#000" stroke-width="2.1"/>
<text class="t" x="248.9" y="392.34000000000003" text-anchor="end" style="font-size:10.4px">75</text>
<line x1="251.9" y1="357.52" x2="257.3" y2="357.52" stroke="#000" stroke-width="2.1"/>
<text class="t" x="248.9" y="360.12" text-anchor="end" style="font-size:10.4px">100</text>
<line x1="251.9" y1="325.3" x2="257.3" y2="325.3" stroke="#000" stroke-width="2.1"/>
<text class="t" x="248.9" y="327.90000000000003" text-anchor="end" style="font-size:10.4px">125</text>
<line x1="257.3" y1="486.4" x2="257.3" y2="490.59999999999997" stroke="#000" stroke-width="2.2"/>
<line x1="294" y1="486.4" x2="294" y2="490.59999999999997" stroke="#000" stroke-width="2.2"/>
<line x1="330.6" y1="486.4" x2="330.6" y2="490.59999999999997" stroke="#000" stroke-width="2.2"/>
<line x1="367.2" y1="486.4" x2="367.2" y2="490.59999999999997" stroke="#000" stroke-width="2.2"/>
<text x="280.8" y="443.8" text-anchor="middle" style="font-size:8.2px">*</text>
<text x="355.3" y="435.8" text-anchor="middle" style="font-size:8.2px">*</text>
<text class="xs" x="273.6" y="500.8" text-anchor="middle">shRNA-</text>
<text class="xs" x="273.6" y="510.8" text-anchor="middle">Ptpn2-A</text>
<text class="xs" x="273.6" y="520.8" text-anchor="middle">+ JAK1 wt</text>
<text class="xs" x="314" y="500.8" text-anchor="middle">ZNF98-</text>
<text class="xs" x="314" y="510.8" text-anchor="middle">FGFR1</text>
<text class="xs" x="348.6" y="500.8" text-anchor="middle">JAK1</text>
<text class="xs" x="348.6" y="510.8" text-anchor="middle">R724H</text>
<path d="M398.9 352.97632 V350.98192 M396.29999999999995 350.98192 H401.5" stroke="#000" stroke-width="1.5" fill="none"/>
<rect x="393" y="353.97632" width="11.800000000000011" height="133.02368" fill="#fff" stroke="#000" stroke-width="2"/>
<path d="M411.0 444.18688 V442.59135999999995 M408.4 442.59135999999995 H413.6" stroke="#000" stroke-width="1.5" fill="none"/>
<rect x="405" y="444.18688" width="12" height="42.813120000000026" fill="#000"/>
<path d="M438.35 352.97632 V351.77968 M435.75 351.77968 H440.95000000000005" stroke="#000" stroke-width="1.5" fill="none"/>
<rect x="433.4" y="353.97632" width="9.900000000000034" height="133.02368" fill="#fff" stroke="#000" stroke-width="2"/>
<path d="M450.5 352.44448 V349.25344 M447.9 349.25344 H453.1" stroke="#000" stroke-width="1.5" fill="none"/>
<rect x="444" y="352.44448" width="13" height="134.55552" fill="#000"/>
<path d="M479.1 352.97632 V346.86016 M476.5 346.86016 H481.70000000000005" stroke="#000" stroke-width="1.5" fill="none"/>
<rect x="473.2" y="353.97632" width="11.800000000000011" height="133.02368" fill="#fff" stroke="#000" stroke-width="2"/>
<path d="M491.1 455.48848 V453.49408 M488.5 453.49408 H493.70000000000005" stroke="#000" stroke-width="1.5" fill="none"/>
<rect x="485.2" y="455.48848" width="11.800000000000011" height="31.51152000000002" fill="#000"/>
<path d="M385.6 319.8 V487" fill="none" stroke="#000" stroke-width="2.3"/>
<path d="M380.20000000000005 487.6 H507.3" fill="none" stroke="#000" stroke-width="3"/>
<line x1="380.20000000000005" y1="487.0" x2="385.6" y2="487.0" stroke="#000" stroke-width="2.1"/>
<line x1="380.20000000000005" y1="453.76" x2="385.6" y2="453.76" stroke="#000" stroke-width="2.1"/>
<text class="t" x="380.6" y="456.36" text-anchor="end" style="font-size:10.4px">25</text>
<line x1="380.20000000000005" y1="420.52" x2="385.6" y2="420.52" stroke="#000" stroke-width="2.1"/>
<text class="t" x="380.6" y="423.12" text-anchor="end" style="font-size:10.4px">50</text>
<line x1="380.20000000000005" y1="387.28" x2="385.6" y2="387.28" stroke="#000" stroke-width="2.1"/>
<text class="t" x="380.6" y="389.88" text-anchor="end" style="font-size:10.4px">75</text>
<line x1="380.20000000000005" y1="354.04" x2="385.6" y2="354.04" stroke="#000" stroke-width="2.1"/>
<text class="t" x="380.6" y="356.64000000000004" text-anchor="end" style="font-size:10.4px">100</text>
<line x1="380.20000000000005" y1="320.8" x2="385.6" y2="320.8" stroke="#000" stroke-width="2.1"/>
<text class="t" x="380.6" y="323.40000000000003" text-anchor="end" style="font-size:10.4px">125</text>
<line x1="385.4" y1="487" x2="385.4" y2="492.2" stroke="#000" stroke-width="2.2"/>
<line x1="424.6" y1="487" x2="424.6" y2="492.2" stroke="#000" stroke-width="2.2"/>
<line x1="464" y1="487" x2="464" y2="492.2" stroke="#000" stroke-width="2.2"/>
<line x1="504.8" y1="487" x2="504.8" y2="492.2" stroke="#000" stroke-width="2.2"/>
<text x="410.8" y="441.5" text-anchor="middle" style="font-size:8.2px">*</text>
<text x="490.8" y="452.6" text-anchor="middle" style="font-size:8.2px">*</text>
<text class="xs" x="405" y="500.8" text-anchor="middle">shRNA-</text>
<text class="xs" x="405" y="510.8" text-anchor="middle">Ptpn2-A</text>
<text class="xs" x="405" y="520.8" text-anchor="middle">+ JAK1 wt</text>
<text class="xs" x="445.3" y="500.8" text-anchor="middle">ZNF98-</text>
<text class="xs" x="445.3" y="510.8" text-anchor="middle">FGFR1</text>
<text class="xs" x="485" y="500.8" text-anchor="middle">JAK1</text>
<text class="xs" x="485" y="510.8" text-anchor="middle">R724H</text>
</svg></body></html>
